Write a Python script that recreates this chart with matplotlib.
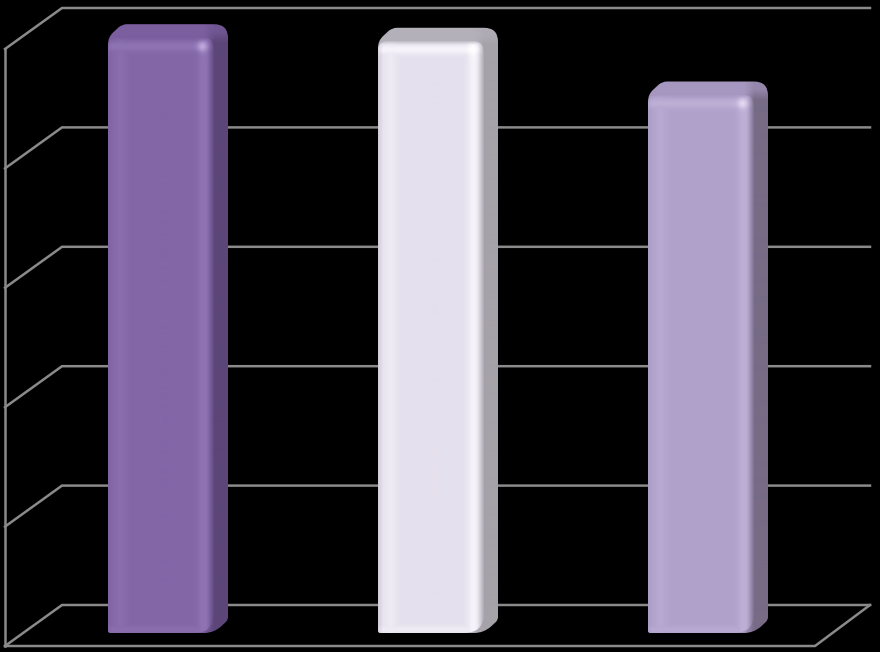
import numpy as np
import matplotlib
matplotlib.use('Agg')
import matplotlib.pyplot as plt
from matplotlib.path import Path
from matplotlib.patches import PathPatch

# ========== DATA ==========
categories = [0, 1, 2]
values = [4.99, 4.96, 4.51]
grid_levels = [0, 1, 2, 3, 4, 5]

# ========== STYLE ==========
face_colors = ['#8266A6', '#E5E0ED', '#B0A1CB']
glow_colors = ['#8F74B4', '#F6F3FA', '#BDAFD6']
top_colors = ['#7A5E9E', '#B4B0BA', '#A697C0']
side_colors = ['#5C4679', '#A6A2A9', '#776B86']
spot_colors = ['#BFA8DC', '#FFFFFF', '#E2D8F2']
GRID = '#8A8A8A'

# pixels per unit on each axis
SX, SY = 270.0, 119.4
BAR_W = 106 / SX
DEPTH_X, DEPTH_Y = 14 / SX, 13 / SY
# wall offsets relative to the bar plane
BACK_X, BACK_Y = 62 / SX, 28 / SY
FRONT_Y = -13 / SY
WALL_L = -156 / SX
FLOOR_R = 654 / SX
BACK_R = 709 / SX
BAR_ZERO_X, BAR_ZERO_Y = 161, 633


def rounded(points, radii):
    """Closed path through data points with corners rounded by radii in px"""
    pts = np.array(points) * [SX, SY]
    n = len(pts)
    verts, codes = [], []
    for i in range(n):
        p, prev, nxt = pts[i], pts[i - 1], pts[(i + 1) % n]
        a = p + (prev - p) / np.linalg.norm(prev - p) * radii[i]
        b = p + (nxt - p) / np.linalg.norm(nxt - p) * radii[i]
        verts += [a, p, b]
        codes += [Path.LINETO if i else Path.MOVETO, Path.CURVE3, Path.CURVE3]
    verts.append(verts[0])
    codes.append(Path.CLOSEPOLY)
    return Path(np.array(verts) / [SX, SY], codes)


def bump(d, center, width):
    return np.exp(-((d - center) / width) ** 2)


def rgb(c):
    return np.array(matplotlib.colors.to_rgb(c))


def paint(ax, img, extent, path):
    patch = PathPatch(path, fc='none', ec='none', transform=ax.transData)
    ax.add_patch(patch)
    im = ax.imshow(img, extent=extent, origin='upper', aspect='auto',
                   interpolation='bilinear', zorder=3)
    im.set_clip_path(patch)


def draw_bar(ax, c, v, i):
    left, right = c - BAR_W / 2, c + BAR_W / 2

    # side and top faces, painted as one silhouette
    outline = rounded(
        [(left, 0), (left, v), (left + DEPTH_X, v + DEPTH_Y),
         (right + DEPTH_X, v + DEPTH_Y), (right + DEPTH_X, DEPTH_Y),
         (right, 0)],
        [2, 7, 5, 14, 3, 10])
    extent = (left, right + DEPTH_X, 0, v + DEPTH_Y)
    h, w = int((v + DEPTH_Y) * SY), int((BAR_W + DEPTH_X) * SX)
    yy, xx = np.mgrid[0:h, 0:w].astype(float)
    side = np.clip((xx - (w - 24)) / 10, 0, 1)[..., None]
    side = side * np.clip((yy - 2) / 16, 0.35, 1)[..., None]
    img = rgb(top_colors[i]) * (1 - side) + rgb(side_colors[i]) * side
    paint(ax, np.clip(img, 0, 1), extent, outline)

    # front face with bevel shading
    front = rounded([(left, 0), (left, v), (right, v), (right, 0)],
                    [3, 10, 12, 20])
    h, w = int(v * SY), int(BAR_W * SX)
    yy, xx = np.mgrid[0:h, 0:w].astype(float)
    from_right = w - xx
    glow = np.maximum(bump(from_right, 11, 6), bump(yy, 9, 5))
    glow = np.maximum(glow, 0.55 * bump(xx, 12, 7))
    glow = np.maximum(glow, 0.6 * bump(h - yy, 4, 4))
    glow = glow[..., None]
    img = rgb(face_colors[i]) * (1 - glow) + rgb(glow_colors[i]) * glow
    spot = np.exp(-(((from_right - 12) / 5) ** 2 + ((yy - 9) / 5) ** 2))[..., None]
    img = img * (1 - spot) + rgb(spot_colors[i]) * spot
    # melt the edges into the neighbouring faces
    to_side = np.clip(1 - from_right / 8, 0, 1)[..., None] ** 1.5
    img = img * (1 - to_side) + rgb(side_colors[i]) * to_side
    to_top = np.clip(1 - yy / 5, 0, 1)[..., None] ** 1.5
    img = img * (1 - to_top) + rgb(top_colors[i]) * to_top
    to_left = 0.35 * np.clip(1 - xx / 5, 0, 1)[..., None]
    img = img * (1 - to_left) + rgb(top_colors[i]) * to_left
    paint(ax, img, (left, right, 0, v), front)


def create_figure(save_path='out.png'):
    fig = plt.figure(figsize=(8.8, 6.52), dpi=100, facecolor='black')
    ax = fig.add_axes([0, 0, 1, 1])
    ax.set_facecolor('black')
    ax.axis('off')

    # walls and gridlines
    lw = 1.8
    for k in grid_levels:
        ax.plot([WALL_L, BACK_X - BAR_ZERO_X / SX, BACK_R],
                [k + FRONT_Y, k + BACK_Y, k + BACK_Y],
                color=GRID, lw=lw, zorder=1, solid_joinstyle='miter')
    ax.plot([WALL_L, WALL_L], [grid_levels[0] + FRONT_Y, grid_levels[-1] + FRONT_Y],
            color=GRID, lw=lw, zorder=1)
    ax.plot([WALL_L, FLOOR_R, BACK_R], [FRONT_Y, FRONT_Y, BACK_Y],
            color=GRID, lw=lw, zorder=1, solid_joinstyle='miter')

    for i, (c, v) in enumerate(zip(categories, values)):
        draw_bar(ax, c, v, i)

    ax.set_xlim(-BAR_ZERO_X / SX, (880 - BAR_ZERO_X) / SX)
    ax.set_ylim(-(652 - BAR_ZERO_Y) / SY, BAR_ZERO_Y / SY)
    fig.savefig(save_path, dpi=100, facecolor='black')


if __name__ == "__main__":
    create_figure()
